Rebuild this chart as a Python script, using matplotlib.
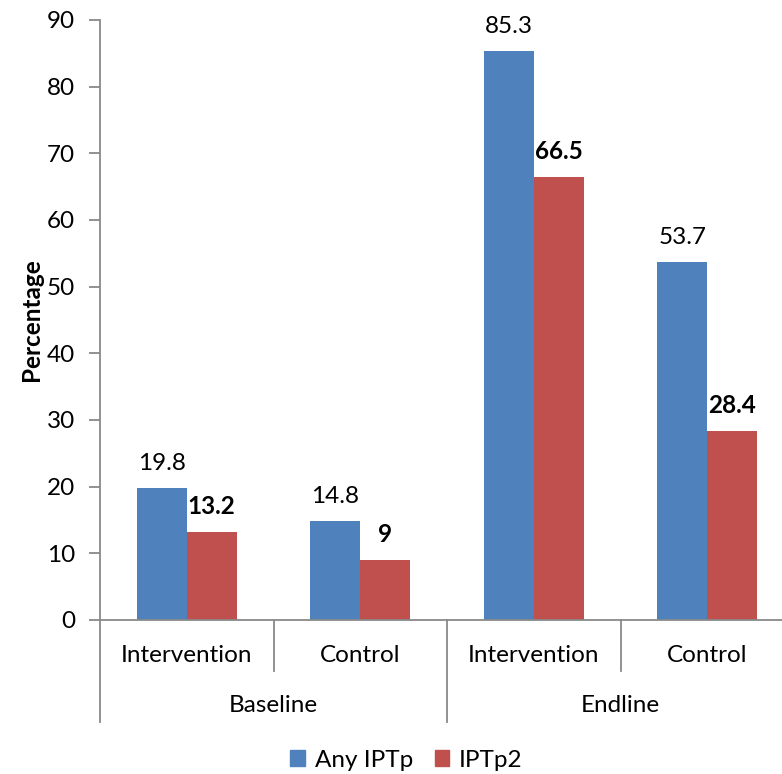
import numpy as np
import matplotlib.pyplot as plt
import matplotlib.transforms as mtransforms
from matplotlib.patches import Patch

plt.rcParams['font.family'] = ['Lato', 'DejaVu Sans']

categorias = ["Intervention", "Control", "Intervention", "Control"]
grupos = ["Baseline", "Endline"]
any_iptp = [19.8, 14.8, 85.3, 53.7]
iptp2 = [13.2, 9, 66.5, 28.4]
etiquetas_any = ["19.8", "14.8", "85.3", "53.7"]
etiquetas_iptp2 = ["13.2", "9", "66.5", "28.4"]

AZUL = '#4F81BD'
ROJO = '#C0504D'
GRIS = '#898989'
FS = 17.5

fig = plt.figure(figsize=(7.82, 7.74), dpi=100)
W, H = 782, 774
ax = fig.add_axes([100 / W, (H - 620) / H, 694 / W, 600 / H])

x = np.arange(len(categorias))
ancho = 0.288
b1 = ax.bar(x - ancho / 2, any_iptp, ancho, color=AZUL, label='Any IPTp')
b2 = ax.bar(x + ancho / 2, iptp2, ancho, color=ROJO, label='IPTp2')

for rect, txt in zip(b1, etiquetas_any):
    ax.annotate(txt, (rect.get_x() + rect.get_width() / 2, rect.get_height()),
                xytext=(0, 10), textcoords='offset points', ha='center', va='bottom',
                fontsize=FS)
for rect, txt in zip(b2, etiquetas_iptp2):
    ax.annotate(txt, (rect.get_x() + rect.get_width() / 2, rect.get_height()),
                xytext=(0, 10), textcoords='offset points', ha='center', va='bottom',
                fontsize=FS, fontweight='bold')

ax.set_xlim(-0.5, 3.5)
ax.set_ylim(0, 90)
ax.set_yticks(range(0, 91, 10))
ax.tick_params(axis='y', direction='out', length=8, width=1.3, color=GRIS, labelsize=FS, pad=10)
ax.set_xticks([])

for lado in ['top', 'right']:
    ax.spines[lado].set_visible(False)
for lado in ['left', 'bottom']:
    ax.spines[lado].set_color(GRIS)
    ax.spines[lado].set_linewidth(1.3)

ax.set_ylabel('Percentage', fontsize=FS, fontweight='bold', labelpad=3)

# eje de categorías en dos niveles
trans = mtransforms.blended_transform_factory(ax.transData, ax.transAxes)
corto, largo = 51 / 600, 102 / 600
for xs in [-0.5, 0.5, 1.5, 2.5, 3.5]:
    prof = largo if xs in (-0.5, 1.5, 3.5) else corto
    ax.plot([xs, xs], [0, -prof], transform=trans, color=GRIS, lw=1.3, clip_on=False)

for xi, cat in zip(x, categorias):
    ax.text(xi, -35 / 600, cat, transform=trans, ha='center', va='center', fontsize=FS)
for gi, grp in enumerate(grupos):
    ax.text(gi * 2 + 0.5, -85 / 600, grp, transform=trans, ha='center', va='center', fontsize=FS)

handles = [Patch(color=AZUL, label='Any IPTp'), Patch(color=ROJO, label='IPTp2')]
fig.legend(handles=handles, loc='center', bbox_to_anchor=(0.52, 0.018), ncol=2,
           frameon=False, fontsize=FS, handlelength=0.6, handleheight=0.6,
           handletextpad=0.4, columnspacing=0.9)

fig.savefig('out.png', dpi=100)
